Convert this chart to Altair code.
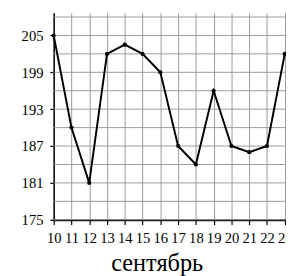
import altair as alt
import pandas as pd

days = [10, 11, 12, 13, 14, 15, 16, 17, 18, 19, 20, 21, 22, 23]
temps = [205, 190, 181, 202, 203.5, 202, 199, 187, 184, 196, 187, 186, 187, 202]
grid_y = [175, 178, 181, 184, 187, 190, 193, 196, 199, 202, 205, 208]
y_ticks = [175, 181, 187, 193, 199, 205]
x_title = "сентябрь"

df = pd.DataFrame({"day": days, "t": temps})
gdf = pd.DataFrame({"v": grid_y})

FONT = "Liberation Serif"
GRID = "#9a9a9a"

xscale = alt.Scale(domain=[10, 23.07], nice=False, zero=False)
yscale = alt.Scale(domain=[175, 208.7], nice=False, zero=False)

yaxis = alt.Axis(
    values=y_ticks,
    grid=False,
    domainColor="black",
    domainWidth=1.5,
    tickColor="black",
    tickSize=4,
    tickWidth=1.2,
    labelFont=FONT,
    labelFontSize=15,
    labelColor="black",
    labelPadding=7,
    labelFlush=False,
    title=None,
)

xaxis = alt.Axis(
    values=days,
    grid=True,
    gridColor=GRID,
    gridWidth=1,
    gridOpacity=1,
    domainColor="black",
    domainWidth=2,
    tickColor="black",
    tickSize=5,
    tickWidth=1.2,
    labelFont=FONT,
    labelFontSize=15,
    labelColor="black",
    labelPadding=6,
    labelFlush=False,
    labelOverlap=False,
    title=x_title,
    titleFont=FONT,
    titleFontSize=25,
    titleFontWeight="normal",
    titleColor="black",
    titleX=106,
    titleY=52,
    titleAlign="center",
    titleBaseline="alphabetic",
)

hgrid = alt.Chart(gdf).mark_rule(color=GRID, strokeWidth=1).encode(
    y=alt.Y("v:Q", scale=yscale, axis=yaxis)
)

base = alt.Chart(df).encode(
    x=alt.X("day:Q", scale=xscale, axis=xaxis),
    y=alt.Y("t:Q", scale=yscale, axis=yaxis),
)

line = base.mark_line(color="black", strokeWidth=2)
pts = base.mark_point(filled=True, color="black", size=18, opacity=1)

chart = (
    alt.layer(hgrid, line, pts)
    .properties(
        width=239,
        height=213,
        autosize=alt.AutoSizeParams(type="none"),
        padding={"left": 47, "top": 1, "right": 0, "bottom": 54},
        background="white",
    )
    .configure_view(stroke=None)
)

chart.save("out.html", embed_options={"renderer": "svg", "actions": False})
